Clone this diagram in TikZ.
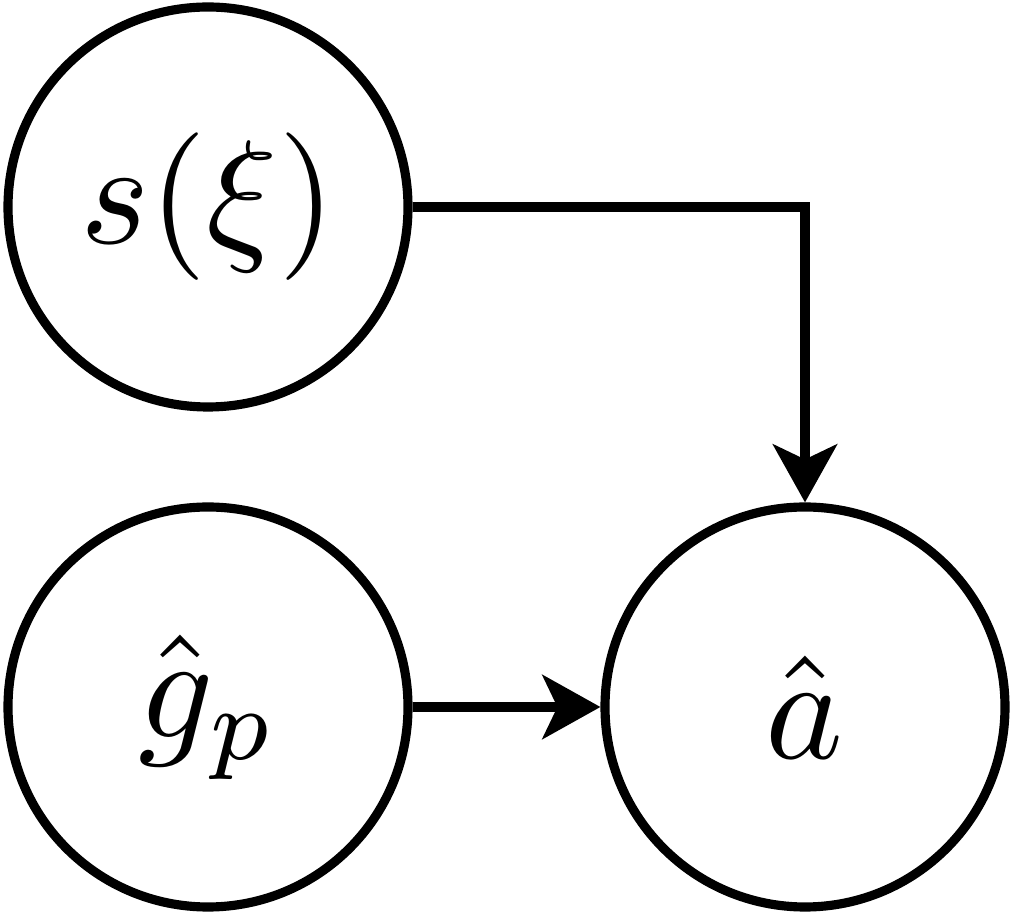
\documentclass[tikz,border=0pt]{standalone}
\usepackage{graphicx}
\usepackage{amsmath}
\usepackage{amssymb}
\usetikzlibrary{arrows.meta}
\usetikzlibrary{positioning}

\newcommand{\varlabel}[1]{\scalebox{4.2}{$#1$}}

\begin{document}
\begin{tikzpicture}[
    varnode/.style={circle, draw=black, line width=2.6pt, minimum size=4cm,
        inner sep=0pt},
    flow/.style={line width=2.6pt, -{Stealth[length=5.8mm, width=6.4mm, inset=1.5mm]}}
]
\useasboundingbox (0,0) rectangle (10.1,9.15);

% Variables
\node[varnode] (s) at (2.08,7.08) {\varlabel{s(\xi)}};
\node[varnode] (g) at (2.08,2.08) {\varlabel{\hat{g}_p}};
\node[varnode] (a) at (8.05,2.08) {\varlabel{\hat{a}}};

% Dependencies
\draw[flow] (s.east) -| (a.north);
\draw[flow] (g) -- (a);
\end{tikzpicture}
\end{document}
